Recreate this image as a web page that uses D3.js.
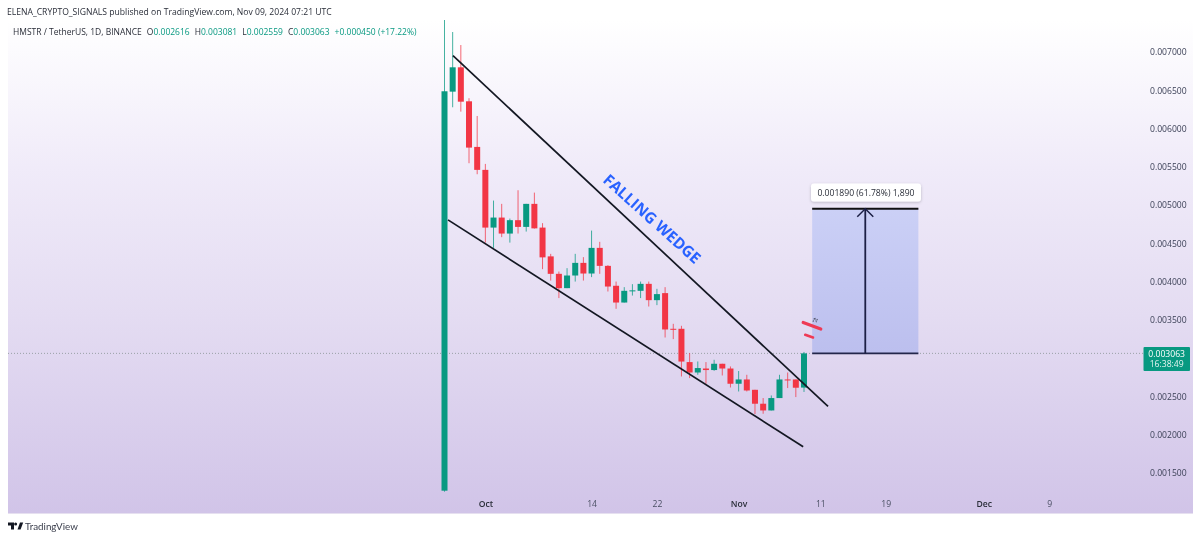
<!DOCTYPE html>
<html><head><meta charset="utf-8">
<script src="https://cdn.jsdelivr.net/npm/d3@7"></script>
<style>html,body{margin:0;padding:0;background:#fff;overflow:hidden}svg{display:block;filter:blur(.35px)}</style>
</head><body>
<svg id="c" width="1200" height="539"></svg>
<script>
const publishLine = "ELENA_CRYPTO_SIGNALS published on TradingView.com, Nov 09, 2024 07:21 UTC";
const symbolLine = "HMSTR / TetherUS, 1D, BINANCE";
const legendParts = [["O","0.002616"],["H","0.003081"],["L","0.002559"],["C","0.003063"]];
const legendChange = "+0.000450 (+17.22%)";
const firstDay = "2024-09-26";
const opens  = [1269,6482,6800,6356,5760,5460,4706,4837,4628,4803,4715,5016,4706,4330,4102,3915,4080,4245,4106,4441,4206,3946,3727,3880,3880,3971,3758,3850,3384,3384,2949,2813,2865,2845,2927,2865,2666,2722,2587,2405,2317,2479,2722,2722,2616];
const highs  = [7418,7261,7091,6396,6164,5538,5059,5016,4824,5194,5016,5163,4764,4363,4132,4176,4363,4320,4667,4520,4215,4001,3928,3967,4001,4001,3906,3928,3449,3423,3067,2957,2949,2979,2927,2892,2832,2783,2587,2479,2513,2783,2813,2722,3081];
const lows   = [1256,6278,6221,5547,5403,4510,4441,4581,4510,4628,4654,4693,4163,4014,3785,3915,4001,4014,4059,4102,3871,3645,3727,3818,3785,3675,3693,3270,3249,2761,2740,2783,2666,2835,2774,2617,2565,2565,2270,2274,2317,2479,2610,2492,2559];
const closes = [6487,6800,6351,5751,5460,4706,4837,4628,4803,4715,5016,4696,4317,4102,3915,4080,4245,4106,4441,4206,3936,3727,3880,3886,3971,3758,3837,3375,3375,2956,2813,2871,2845,2927,2865,2666,2722,2578,2405,2317,2479,2722,2711,2614,3063];
const priceTicks = [7000,6500,6000,5500,5000,4500,4000,3500,2500,2000,1500];
const timeTicks = [["2024-10-01","Oct",true],["2024-10-14","14",false],["2024-10-22","22",false],["2024-11-01","Nov",true],["2024-11-11","11",false],["2024-11-19","19",false],["2024-12-01","Dec",true],["2024-12-09","9",false]];
const lastPrice = 3063, lastLabel = "0.003063", countdown = "16:38:49";
const rangeTop = 4953, rangeStartDay = "2024-11-10", rangeEndDay = "2024-11-23";
const rangeLabel = "0.001890 (61.78%) 1,890";
const upperTrend = [[1.04,6952],[46.94,2369]];
const lowerTrend = [[0.43,4807],[43.9,1843]];
const wedgeLabel = "FALLING WEDGE";
const wedgeAt = [25.3,4807];
const scribbleA = [[43.9,3466],[46.05,3380]];
const scribbleB = [[44.15,3305],[45.1,3270]];
const scribbleC = [[45.1,3475],[45.3,3530],[45.5,3480],[45.7,3525]];
const brand = "TradingView";

const GREEN="#089981", RED="#f23645", INK="#131722";
const UI='"Open Sans","DejaVu Sans",sans-serif';
const svg=d3.select("#c");
const y=d3.scaleLinear().domain([7000,1500]).range([52,473]);
const day0=new Date(firstDay+"T00:00:00Z").getTime(), DAY=864e5;
const x=d3.scaleLinear().domain([0,44]).range([444.5,804]);
const dayIdx=s=>(new Date(s+"T00:00:00Z").getTime()-day0)/DAY;

const defs=svg.append("defs");
const g=defs.append("linearGradient").attr("id","bg").attr("x1",0).attr("x2",0).attr("y1",0).attr("y2",1);
[[0,"#ffffff"],[.3,"#f0ebf9"],[.6,"#e4dcf2"],[1,"#d1c4e8"]].forEach(s=>g.append("stop").attr("offset",s[0]).attr("stop-color",s[1]));
const g2=defs.append("linearGradient").attr("id","rg").attr("x1",0).attr("x2",0).attr("y1",0).attr("y2",1);
[[0,"#cbd0f6"],[1,"#bcbfee"]].forEach(s=>g2.append("stop").attr("offset",s[0]).attr("stop-color",s[1]));
defs.append("clipPath").attr("id","pane").append("rect").attr("x",8).attr("y",20).attr("width",1185).attr("height",493);
const f=defs.append("filter").attr("id","sh").attr("x","-10%").attr("y","-30%").attr("width","120%").attr("height","170%");
f.append("feDropShadow").attr("dx",0).attr("dy",1).attr("stdDeviation",1.5).attr("flood-color","#000").attr("flood-opacity",.22);

svg.append("rect").attr("x",8).attr("y",20).attr("width",1185).attr("height",493).attr("fill","url(#bg)");
svg.append("rect").attr("x",8).attr("y",513).attr("width",1185).attr("height",1).attr("fill","#e6e0f0");

svg.append("text").attr("x",7).attr("y",15).attr("font-family",UI).attr("font-size",8.6).attr("fill","#2a2e39").text(publishLine);

// price axis
const yAxis=d3.axisRight(y).tickValues(priceTicks).tickSize(0).tickFormat(d=>(d/1e6).toFixed(6));
const ya=svg.append("g").attr("transform","translate(1147,0)").call(yAxis);
ya.select(".domain").remove();
ya.selectAll("text").attr("font-family",UI).attr("font-size",8.6).attr("fill","#3d4258");

// time axis
const xAxis=d3.axisBottom(x).tickValues(timeTicks.map(t=>dayIdx(t[0]))).tickSize(0)
  .tickFormat((d,i)=>timeTicks[i][1]);
const xa=svg.append("g").attr("transform","translate(0,497.5)").call(xAxis);
xa.select(".domain").remove();
xa.selectAll("text").attr("font-family",UI).attr("font-size",8.6).attr("fill",(d,i)=>timeTicks[i][2]?"#2a2e39":"#4a4f63").attr("font-weight",(d,i)=>timeTicks[i][2]?600:400);

// last price line
svg.append("line").attr("x1",8).attr("x2",1143).attr("y1",y(lastPrice)).attr("y2",y(lastPrice)).attr("stroke","#9aa0a6").attr("stroke-width",1).attr("stroke-dasharray","1 2");

const marks=svg.append("g");
// range tool
const rx0=x(dayIdx(rangeStartDay)), rx1=x(dayIdx(rangeEndDay));
const rxM=(rx0+rx1)/2;
const range=marks.append("g");
range.append("rect").attr("x",rx0).attr("y",y(rangeTop)).attr("width",rx1-rx0).attr("height",y(lastPrice)-y(rangeTop)).attr("fill","url(#rg)");
range.append("line").attr("x1",rx0).attr("x2",rx1).attr("y1",y(rangeTop)).attr("y2",y(rangeTop)).attr("stroke","#111").attr("stroke-width",2);
range.append("line").attr("x1",rx0).attr("x2",rx1).attr("y1",y(lastPrice)).attr("y2",y(lastPrice)).attr("stroke","#23264a").attr("stroke-width",1.6);
range.append("line").attr("x1",rxM).attr("x2",rxM).attr("y1",y(lastPrice)).attr("y2",y(rangeTop)).attr("stroke","#1c1f45").attr("stroke-width",1.8);
range.append("path").attr("d",d3.line()([[rxM-8,y(rangeTop)+8],[rxM,y(rangeTop)],[rxM+8,y(rangeTop)+8]])).attr("fill","none").attr("stroke","#1c1f45").attr("stroke-width",1.5);

// candles
const idx=d3.range(opens.length);
const cg=marks.append("g").attr("clip-path","url(#pane)");
const col=i=>closes[i]>=opens[i]?GREEN:RED;
cg.selectAll("line.w").data(idx).join("line").attr("class","w")
  .attr("x1",i=>x(i)).attr("x2",i=>x(i)).attr("y1",i=>y(highs[i])).attr("y2",i=>y(lows[i]))
  .attr("stroke",col).attr("stroke-width",1).attr("stroke-opacity",.75);
cg.selectAll("rect.b").data(idx).join("rect").attr("class","b")
  .attr("x",i=>x(i)-3).attr("width",6)
  .attr("y",i=>Math.min(y(opens[i]),y(closes[i])))
  .attr("height",i=>Math.max(1,Math.abs(y(opens[i])-y(closes[i]))))
  .attr("fill",col);

// trend lines
const tl=d3.line().x(d=>x(d[0])).y(d=>y(d[1]));
[upperTrend,lowerTrend].forEach(t=>marks.append("path").attr("d",tl(t)).attr("fill","none").attr("stroke",INK).attr("stroke-width",1.7));

// red scribble
marks.append("path").attr("d",tl(scribbleA)).attr("fill","none").attr("stroke","#ee3a55").attr("stroke-width",3.2).attr("stroke-linecap","round");
marks.append("path").attr("d",tl(scribbleB)).attr("fill","none").attr("stroke","#ee3a55").attr("stroke-width",2.6).attr("stroke-linecap","round");
marks.append("path").attr("d",tl(scribbleC)).attr("fill","none").attr("stroke","#555a70").attr("stroke-width",1.1).attr("stroke-dasharray","1.5 1");

// wedge label
svg.append("text").attr("transform",`translate(${x(wedgeAt[0])},${y(wedgeAt[1])}) rotate(42)`).attr("text-anchor","middle").attr("dominant-baseline","middle")
  .attr("font-family",UI).attr("font-size",15.5).attr("font-weight",700).attr("fill","#2962ff").text(wedgeLabel);

// range label
svg.append("rect").attr("x",811).attr("y",183.5).attr("width",110).attr("height",18).attr("rx",3).attr("fill","#fff").attr("filter","url(#sh)");
svg.append("text").attr("x",866).attr("y",195.5).attr("text-anchor","middle").attr("font-family",UI).attr("font-size",8.6).attr("fill","#2a2e39").text(rangeLabel);

// price tag
svg.append("rect").attr("x",1143.5).attr("y",347).attr("width",46.5).attr("height",24).attr("rx",1).attr("fill",GREEN);
svg.append("text").attr("x",1166.7).attr("y",356.5).attr("text-anchor","middle").attr("font-family",UI).attr("font-size",8.6).attr("fill","#fff").text(lastLabel);
svg.append("text").attr("x",1166.7).attr("y",367).attr("text-anchor","middle").attr("font-family",UI).attr("font-size",8.6).attr("fill","#e6f5f1").text(countdown);

// legend
const lg=svg.append("text").attr("x",13).attr("y",34.5).attr("font-family",UI).attr("font-size",8.5).attr("fill","#2a2e39");
lg.append("tspan").text(symbolLine);
legendParts.forEach(p=>{
  lg.append("tspan").attr("dx",5).text(p[0]);
  lg.append("tspan").attr("fill",GREEN).text(p[1]);
});
lg.append("tspan").attr("dx",5).attr("fill",GREEN).text(legendChange);

// brand
const logo=svg.append("g").attr("transform","translate(8,522.5)").attr("fill","#131722");
logo.append("path").attr("d","M0 0h6v7H3V3H0z");
logo.append("circle").attr("cx",7.6).attr("cy",1.6).attr("r",1.5);
logo.append("path").attr("d","M9.5 7 12 0h3.2l-2.6 7z");
svg.append("text").attr("x",25).attr("y",529.5).attr("font-family",'Lato,"Open Sans",sans-serif').attr("font-size",9.8).attr("fill","#3a3e4c").text(brand);
</script>
</body></html>
